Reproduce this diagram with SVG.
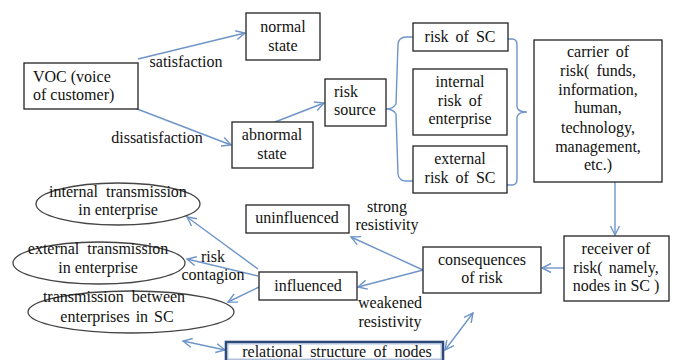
<svg xmlns="http://www.w3.org/2000/svg" width="674" height="360" viewBox="0 0 674 360">
<defs>
<style>
.box{fill:#fff;stroke:#222;stroke-width:1.3}
.ell{fill:#fff;stroke:#444;stroke-width:1.3}
text{font-family:'Liberation Serif','Times New Roman',serif;font-size:16px;fill:#111;text-anchor:middle}
text.l{text-anchor:start}
.c{fill:none;stroke:#6f95c8;stroke-width:1.4}
</style>
<marker id="ah" markerWidth="12" markerHeight="12" refX="10" refY="6" orient="auto" markerUnits="userSpaceOnUse">
<path d="M1,1.5 L10,6 L1,10.5" fill="none" stroke="#6f95c8" stroke-width="1.4"/>
</marker>
<marker id="as" markerWidth="12" markerHeight="12" refX="2" refY="6" orient="auto" markerUnits="userSpaceOnUse">
<path d="M11,1.5 L2,6 L11,10.5" fill="none" stroke="#6f95c8" stroke-width="1.4"/>
</marker>
</defs>
<rect width="674" height="360" fill="#fff"/>

<g id="connectors">
<line class="c" x1="138" y1="59" x2="245" y2="33" marker-end="url(#ah)"/>
<line class="c" x1="132" y1="107" x2="231" y2="145" marker-end="url(#ah)"/>
<line class="c" x1="275" y1="122" x2="324" y2="103" marker-end="url(#ah)"/>
<path class="c" d="M386,109 Q393,109 396,104 L398,44 Q399,37 406,37 L413,37 M396,114 Q393,109 386,109 M396,114 L398,174 Q399,181 406,181 L413,181"/>
<path class="c" d="M508,39 L512,39 Q517,39 517,45 L517,107 Q518,112 527,112 M527,112 Q518,112 517,117 L517,179 Q517,185 512,185 L507,185"/>
<line class="c" x1="615" y1="182" x2="615" y2="235" marker-end="url(#ah)"/>
<line class="c" x1="564" y1="268" x2="542" y2="268" marker-end="url(#ah)"/>
<line class="c" x1="423" y1="270" x2="351" y2="237" marker-end="url(#ah)"/>
<line class="c" x1="423" y1="270" x2="358" y2="287" marker-end="url(#ah)"/>
<line class="c" x1="258" y1="269" x2="187" y2="217" marker-end="url(#ah)"/>
<line class="c" x1="258" y1="276" x2="187" y2="259" marker-end="url(#ah)"/>
<line class="c" x1="259" y1="287" x2="228" y2="302" marker-end="url(#ah)"/>
<line class="c" x1="183" y1="341" x2="225" y2="350" marker-start="url(#as)" marker-end="url(#ah)"/>
<line class="c" x1="445" y1="350" x2="473" y2="313" marker-start="url(#as)" marker-end="url(#ah)"/>
<text x="186" y="67">satisfaction</text>
<text x="157" y="143">dissatisfaction</text>
<text x="387" y="212">strong</text>
<text x="387" y="230">resistivity</text>
<text x="390" y="308">weakened</text>
<text x="390" y="327">resistivity</text>
<text x="213" y="262">risk</text>
<text x="213" y="280">contagion</text>
</g>

<g id="voc"><rect class="box" x="24" y="63" width="114" height="46"/>
<text class="l" x="33" y="82">VOC (voice</text><text class="l" x="33" y="100">of customer)</text></g>
<g id="normal"><rect class="box" x="246" y="13" width="74" height="47"/>
<text x="283" y="32">normal</text><text x="283" y="51">state</text></g>
<g id="abnormal"><rect class="box" x="232" y="122" width="81" height="46"/>
<text x="272" y="140">abnormal</text><text x="272" y="159">state</text></g>
<g id="risksource"><rect class="box" x="325" y="79" width="61" height="47"/>
<text class="l" x="334" y="97">risk</text><text class="l" x="334" y="115">source</text></g>
<g id="riskSC"><rect class="box" x="413" y="23" width="95" height="28"/>
<text x="460" y="42" word-spacing="3">risk of SC</text></g>
<g id="internal"><rect class="box" x="413" y="69" width="94" height="66"/>
<text x="460" y="87">internal</text><text x="460" y="106" word-spacing="3">risk of</text><text x="460" y="124">enterprise</text></g>
<g id="external"><rect class="box" x="413" y="146" width="94" height="47"/>
<text x="460" y="164">external</text><text x="460" y="183" word-spacing="3">risk of SC</text></g>
<g id="carrier"><rect class="box" x="534" y="40" width="128" height="142"/>
<text x="598" y="57" word-spacing="3">carrier of</text><text x="598" y="76" word-spacing="3">risk( funds,</text><text x="598" y="95">information,</text><text x="598" y="113">human,</text><text x="598" y="133">technology,</text><text x="598" y="152">management,</text><text x="598" y="170">etc.)</text></g>
<g id="receiver"><rect class="box" x="564" y="236" width="105" height="65"/>
<text x="616" y="254">receiver of</text><text x="616" y="273" word-spacing="2">risk( namely,</text><text x="616" y="291">nodes in SC )</text></g>
<g id="consequences"><rect class="box" x="423" y="247" width="118" height="46"/>
<text x="482" y="265">consequences</text><text x="482" y="283">of risk</text></g>
<g id="uninfluenced"><rect class="box" x="246" y="205" width="103" height="28"/>
<text x="297" y="223">uninfluenced</text></g>
<g id="influenced"><rect class="box" x="259" y="272" width="98" height="28"/>
<text x="308" y="291">influenced</text></g>
<g id="ell1"><ellipse class="ell" cx="118" cy="204" rx="82" ry="21"/>
<text x="118" y="197" word-spacing="4">internal transmission</text><text x="118" y="215">in enterprise</text></g>
<g id="ell2"><ellipse class="ell" cx="99" cy="263" rx="86" ry="21"/>
<text x="98" y="254" word-spacing="4">external transmission</text><text x="98" y="273">in enterprise</text></g>
<g id="ell3"><ellipse class="ell" cx="131" cy="312" rx="103" ry="21"/>
<text x="114" y="302" word-spacing="4">transmission between</text><text x="117" y="322" word-spacing="2">enterprises in SC</text></g>
<g id="relational"><rect x="226" y="342" width="217" height="19" fill="#fff" stroke="#2e4a7a" stroke-width="2.6"/>
<rect x="228" y="344" width="213" height="15" fill="none" stroke="#9bb3d6" stroke-width="0.8"/>
<text x="337" y="357" word-spacing="3.5">relational structure of nodes</text></g>
</svg>
